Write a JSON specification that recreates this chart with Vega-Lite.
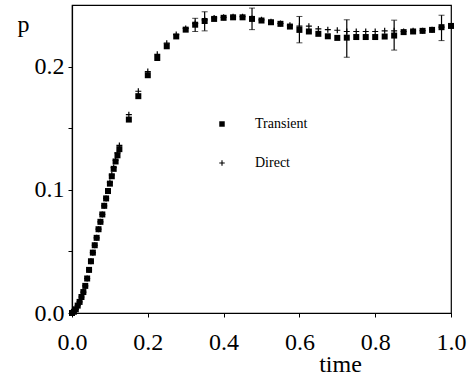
{
  "$schema": "https://vega.github.io/schema/vega-lite/v6.json",
  "width": 379,
  "height": 308,
  "autosize": {"type": "none"},
  "padding": {"left": 72, "top": 5, "right": 21, "bottom": 65},
  "background": "white",
  "config": {
    "font": "Liberation Serif",
    "view": {"stroke": "black", "strokeWidth": 1.2},
    "axis": {
      "grid": false,
      "domainColor": "black",
      "domainWidth": 1.2,
      "tickColor": "black",
      "tickSize": 4,
      "tickWidth": 1,
      "labelColor": "black",
      "labelFont": "Liberation Serif",
      "labelFontSize": 24,
      "titleFont": "Liberation Serif",
      "titleFontSize": 24,
      "titleFontWeight": "normal",
      "titleColor": "black",
      "labelFlush": false,
      "labelOverlap": false,
      "labelBound": false
    }
  },
  "datasets": {
    "pts": [
      {"t": 0.000, "p": 0.000, "series": "Transient"},
      {"t": 0.005, "p": 0.001, "series": "Transient"},
      {"t": 0.010, "p": 0.003, "series": "Transient"},
      {"t": 0.015, "p": 0.006, "series": "Transient"},
      {"t": 0.020, "p": 0.009, "series": "Transient"},
      {"t": 0.025, "p": 0.013, "series": "Transient"},
      {"t": 0.030, "p": 0.017, "series": "Transient"},
      {"t": 0.035, "p": 0.022, "series": "Transient"},
      {"t": 0.040, "p": 0.028, "series": "Transient"},
      {"t": 0.045, "p": 0.035, "series": "Transient"},
      {"t": 0.050, "p": 0.042, "series": "Transient"},
      {"t": 0.055, "p": 0.049, "series": "Transient"},
      {"t": 0.060, "p": 0.055, "series": "Transient"},
      {"t": 0.065, "p": 0.061, "series": "Transient"},
      {"t": 0.070, "p": 0.068, "series": "Transient"},
      {"t": 0.075, "p": 0.074, "series": "Transient"},
      {"t": 0.080, "p": 0.080, "series": "Transient"},
      {"t": 0.085, "p": 0.087, "series": "Transient"},
      {"t": 0.090, "p": 0.093, "series": "Transient"},
      {"t": 0.095, "p": 0.099, "series": "Transient"},
      {"t": 0.100, "p": 0.105, "series": "Transient"},
      {"t": 0.105, "p": 0.111, "series": "Transient"},
      {"t": 0.110, "p": 0.117, "series": "Transient"},
      {"t": 0.115, "p": 0.123, "series": "Transient"},
      {"t": 0.120, "p": 0.128, "series": "Transient"},
      {"t": 0.125, "p": 0.133, "series": "Transient"},
      {"t": 0.150, "p": 0.157, "series": "Transient"},
      {"t": 0.175, "p": 0.176, "series": "Transient"},
      {"t": 0.200, "p": 0.193, "series": "Transient"},
      {"t": 0.225, "p": 0.207, "series": "Transient"},
      {"t": 0.250, "p": 0.2165, "series": "Transient"},
      {"t": 0.275, "p": 0.2245, "series": "Transient"},
      {"t": 0.300, "p": 0.230, "series": "Transient"},
      {"t": 0.325, "p": 0.234, "series": "Transient"},
      {"t": 0.350, "p": 0.237, "series": "Transient"},
      {"t": 0.375, "p": 0.2387, "series": "Transient"},
      {"t": 0.400, "p": 0.2396, "series": "Transient"},
      {"t": 0.425, "p": 0.240, "series": "Transient"},
      {"t": 0.450, "p": 0.240, "series": "Transient"},
      {"t": 0.475, "p": 0.2387, "series": "Transient"},
      {"t": 0.500, "p": 0.2374, "series": "Transient"},
      {"t": 0.525, "p": 0.236, "series": "Transient"},
      {"t": 0.550, "p": 0.2347, "series": "Transient"},
      {"t": 0.575, "p": 0.2325, "series": "Transient"},
      {"t": 0.600, "p": 0.2298, "series": "Transient"},
      {"t": 0.625, "p": 0.2285, "series": "Transient"},
      {"t": 0.650, "p": 0.2266, "series": "Transient"},
      {"t": 0.675, "p": 0.2246, "series": "Transient"},
      {"t": 0.700, "p": 0.2233, "series": "Transient"},
      {"t": 0.725, "p": 0.2235, "series": "Transient"},
      {"t": 0.750, "p": 0.224, "series": "Transient"},
      {"t": 0.775, "p": 0.224, "series": "Transient"},
      {"t": 0.800, "p": 0.224, "series": "Transient"},
      {"t": 0.825, "p": 0.2244, "series": "Transient"},
      {"t": 0.850, "p": 0.2252, "series": "Transient"},
      {"t": 0.875, "p": 0.228, "series": "Transient"},
      {"t": 0.900, "p": 0.2285, "series": "Transient"},
      {"t": 0.925, "p": 0.229, "series": "Transient"},
      {"t": 0.950, "p": 0.2298, "series": "Transient"},
      {"t": 0.975, "p": 0.232, "series": "Transient"},
      {"t": 1.000, "p": 0.233, "series": "Transient"},
      {"t": 0.000, "p": 0.000, "series": "Direct"},
      {"t": 0.005, "p": 0.001, "series": "Direct"},
      {"t": 0.010, "p": 0.003, "series": "Direct"},
      {"t": 0.015, "p": 0.006, "series": "Direct"},
      {"t": 0.020, "p": 0.009, "series": "Direct"},
      {"t": 0.025, "p": 0.013, "series": "Direct"},
      {"t": 0.030, "p": 0.017, "series": "Direct"},
      {"t": 0.035, "p": 0.022, "series": "Direct"},
      {"t": 0.040, "p": 0.028, "series": "Direct"},
      {"t": 0.045, "p": 0.035, "series": "Direct"},
      {"t": 0.050, "p": 0.042, "series": "Direct"},
      {"t": 0.055, "p": 0.049, "series": "Direct"},
      {"t": 0.060, "p": 0.055, "series": "Direct"},
      {"t": 0.065, "p": 0.061, "series": "Direct"},
      {"t": 0.070, "p": 0.068, "series": "Direct"},
      {"t": 0.075, "p": 0.074, "series": "Direct"},
      {"t": 0.080, "p": 0.080, "series": "Direct"},
      {"t": 0.085, "p": 0.087, "series": "Direct"},
      {"t": 0.090, "p": 0.093, "series": "Direct"},
      {"t": 0.095, "p": 0.099, "series": "Direct"},
      {"t": 0.100, "p": 0.106, "series": "Direct"},
      {"t": 0.105, "p": 0.112, "series": "Direct"},
      {"t": 0.110, "p": 0.118, "series": "Direct"},
      {"t": 0.115, "p": 0.124, "series": "Direct"},
      {"t": 0.120, "p": 0.130, "series": "Direct"},
      {"t": 0.125, "p": 0.136, "series": "Direct"},
      {"t": 0.150, "p": 0.161, "series": "Direct"},
      {"t": 0.175, "p": 0.180, "series": "Direct"},
      {"t": 0.200, "p": 0.196, "series": "Direct"},
      {"t": 0.225, "p": 0.210, "series": "Direct"},
      {"t": 0.250, "p": 0.219, "series": "Direct"},
      {"t": 0.275, "p": 0.226, "series": "Direct"},
      {"t": 0.300, "p": 0.231, "series": "Direct"},
      {"t": 0.325, "p": 0.235, "series": "Direct"},
      {"t": 0.350, "p": 0.238, "series": "Direct"},
      {"t": 0.375, "p": 0.2395, "series": "Direct"},
      {"t": 0.400, "p": 0.240, "series": "Direct"},
      {"t": 0.425, "p": 0.2405, "series": "Direct"},
      {"t": 0.450, "p": 0.2405, "series": "Direct"},
      {"t": 0.475, "p": 0.239, "series": "Direct"},
      {"t": 0.500, "p": 0.238, "series": "Direct"},
      {"t": 0.525, "p": 0.2365, "series": "Direct"},
      {"t": 0.550, "p": 0.235, "series": "Direct"},
      {"t": 0.575, "p": 0.2335, "series": "Direct"},
      {"t": 0.600, "p": 0.2328, "series": "Direct"},
      {"t": 0.625, "p": 0.2328, "series": "Direct"},
      {"t": 0.650, "p": 0.2306, "series": "Direct"},
      {"t": 0.675, "p": 0.230, "series": "Direct"},
      {"t": 0.700, "p": 0.2295, "series": "Direct"},
      {"t": 0.725, "p": 0.2285, "series": "Direct"},
      {"t": 0.750, "p": 0.2285, "series": "Direct"},
      {"t": 0.775, "p": 0.2285, "series": "Direct"},
      {"t": 0.800, "p": 0.2285, "series": "Direct"},
      {"t": 0.825, "p": 0.229, "series": "Direct"},
      {"t": 0.850, "p": 0.229, "series": "Direct"},
      {"t": 0.875, "p": 0.2285, "series": "Direct"},
      {"t": 0.900, "p": 0.229, "series": "Direct"},
      {"t": 0.925, "p": 0.2292, "series": "Direct"},
      {"t": 0.950, "p": 0.230, "series": "Direct"},
      {"t": 0.975, "p": 0.232, "series": "Direct"},
      {"t": 1.000, "p": 0.233, "series": "Direct"}
    ],
    "err": [
      {"t": 0.325, "lo": 0.2285, "hi": 0.2392},
      {"t": 0.350, "lo": 0.229, "hi": 0.2445},
      {"t": 0.475, "lo": 0.230, "hi": 0.2475},
      {"t": 0.600, "lo": 0.2193, "hi": 0.2407},
      {"t": 0.725, "lo": 0.2076, "hi": 0.238},
      {"t": 0.850, "lo": 0.2134, "hi": 0.2377},
      {"t": 0.975, "lo": 0.2211, "hi": 0.2417}
    ]
  },
  "layer": [
    {
      "data": {"name": "err"},
      "mark": {"type": "errorbar", "ticks": {"size": 6, "color": "black"}, "rule": {"color": "black", "strokeWidth": 1.2}},
      "encoding": {
        "x": {"field": "t", "type": "quantitative", "title": "time", "scale": {"domain": [0, 1], "nice": false, "zero": false}},
        "y": {"field": "lo", "type": "quantitative", "title": "p", "scale": {"domain": [0, 0.25], "nice": false}},
        "y2": {"field": "hi"}
      }
    },
    {
      "data": {"name": "pts"},
      "mark": {"type": "point", "filled": true, "color": "black", "fill": "black", "strokeWidth": 0, "opacity": 1, "size": 36},
      "encoding": {
        "x": {
          "field": "t", "type": "quantitative", "title": "time",
          "scale": {"domain": [0, 1], "nice": false, "zero": false},
          "axis": {
            "title": "time",
            "values": [0, 0.1, 0.2, 0.3, 0.4, 0.5, 0.6, 0.7, 0.8, 0.9, 1.0],
            "labelExpr": "round(datum.value*10) % 2 == 0 ? format(datum.value, '.1f') : ''",
            "labelPadding": 13,
            "titleX": 268,
            "titleY": 58,
            "titleAlign": "center",
            "titleBaseline": "alphabetic"
          }
        },
        "y": {
          "field": "p", "type": "quantitative", "title": "p",
          "scale": {"domain": [0, 0.25], "nice": false},
          "axis": {
            "title": "p",
            "values": [0, 0.05, 0.1, 0.15, 0.2],
            "labelExpr": "round(datum.value*100) % 10 == 0 ? format(datum.value, '.1f') : ''",
            "labelPadding": 4,
            "titleAngle": 0,
            "titleX": -49,
            "titleY": 26,
            "titleAlign": "center",
            "titleBaseline": "alphabetic"
          }
        },
        "shape": {
          "field": "series", "type": "nominal",
          "scale": {"domain": ["Transient", "Direct"], "range": ["square", "M-1,-0.2H-0.2V-1H0.2V-0.2H1V0.2H0.2V1H-0.2V0.2H-1Z"]},
          "legend": {
            "orient": "none",
            "legendX": 143,
            "legendY": 112,
            "title": null,
            "labelFont": "Liberation Serif",
            "labelFontSize": 14,
            "labelColor": "black",
            "labelOffset": 26,
            "rowPadding": 25,
            "symbolSize": 30,
            "symbolFillColor": "black",
            "symbolStrokeWidth": 0
          }
        }
      }
    }
  ]
}
